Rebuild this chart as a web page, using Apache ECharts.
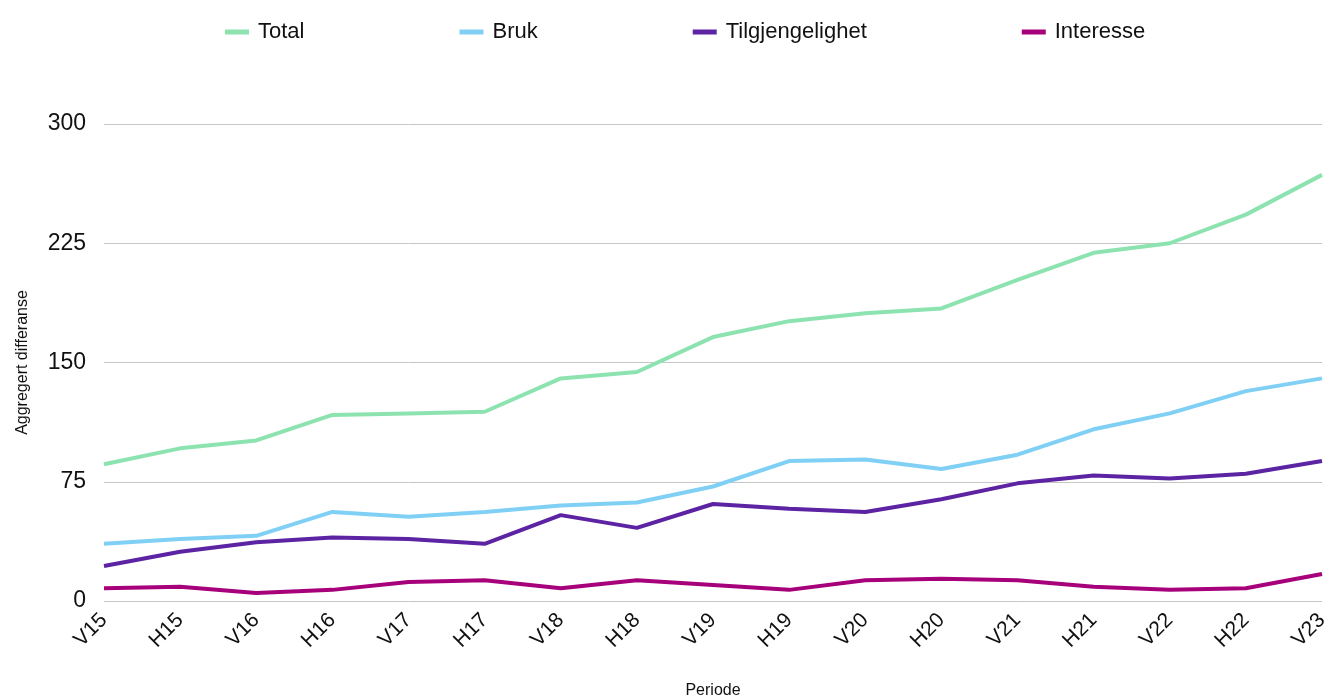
<!DOCTYPE html>
<html>
<head>
<meta charset="utf-8">
<title>Aggregert differanse</title>
<script src="https://cdn.jsdelivr.net/npm/echarts@6/dist/echarts.min.js"></script>
<style>
  html, body { margin: 0; padding: 0; background: #fff; }
  #main { width: 1341px; height: 698px; }
</style>
</head>
<body>
<div id="main"></div>
<script>
// periods
var periods = ['V15', 'H15', 'V16', 'H16', 'V17', 'H17', 'V18', 'H18', 'V19',
               'H19', 'V20', 'H20', 'V21', 'H21', 'V22', 'H22', 'V23'];

// series values
var total = [86, 96, 101, 117, 118, 119, 140, 144, 166, 176, 181, 184, 202, 219, 225, 243, 268];
var bruk = [36, 39, 41, 56, 53, 56, 60, 62, 72, 88, 89, 83, 92, 108, 118, 132, 140];
var tilgjengelighet = [22, 31, 37, 40, 39, 36, 54, 46, 61, 58, 56, 64, 74, 79, 77, 80, 88];
var interesse = [8, 9, 5, 7, 12, 13, 8, 13, 10, 7, 13, 14, 13, 9, 7, 8, 17];

var yTicks = [0, 75, 150, 225, 300];

var font = '"Liberation Sans", Arial, Helvetica, sans-serif';

function line(name, data, color) {
  return {
    name: name,
    type: 'line',
    data: data,
    symbol: 'none',
    lineStyle: { width: 4, color: color },
    itemStyle: { color: color }
  };
}

var chart = echarts.init(document.getElementById('main'));
chart.setOption({
  animation: false,
  textStyle: { fontFamily: font },
  legend: {
    top: 16,
    left: 220,
    itemGap: 155,
    itemWidth: 24,
    itemHeight: 5,
    icon: 'rect',
    textStyle: { fontSize: 22, color: '#111', fontFamily: font, padding: [0, 0, 0, 4] },
    data: ['Total', 'Bruk', 'Tilgjengelighet', 'Interesse']
  },
  grid: { left: 104, right: 19, top: 124, bottom: 97, containLabel: false, outerBoundsMode: 'none' },
  xAxis: {
    type: 'category',
    data: periods,
    boundaryGap: false,
    name: 'Periode',
    nameLocation: 'middle',
    nameGap: 82,
    nameTextStyle: { fontSize: 16, color: '#111', fontFamily: font },
    axisLine: { show: false },
    axisTick: { show: false },
    axisLabel: { rotate: 45, fontSize: 21, color: '#111', margin: 16, fontFamily: font }
  },
  yAxis: {
    type: 'value',
    min: yTicks[0],
    max: yTicks[yTicks.length - 1],
    interval: 75,
    name: 'Aggregert differanse',
    nameLocation: 'middle',
    nameGap: 73,
    nameTextStyle: { fontSize: 16, color: '#111', fontFamily: font },
    axisLine: { show: false },
    axisTick: { show: false },
    axisLabel: { fontSize: 23, color: '#111', margin: 18, fontFamily: font },
    splitLine: { lineStyle: { color: '#c6c6c6', width: 1 } }
  },
  series: [
    line('Total', total, '#8de3b0'),
    line('Bruk', bruk, '#80cff5'),
    line('Tilgjengelighet', tilgjengelighet, '#5c23a2'),
    line('Interesse', interesse, '#a6007a')
  ]
});
</script>
</body>
</html>
